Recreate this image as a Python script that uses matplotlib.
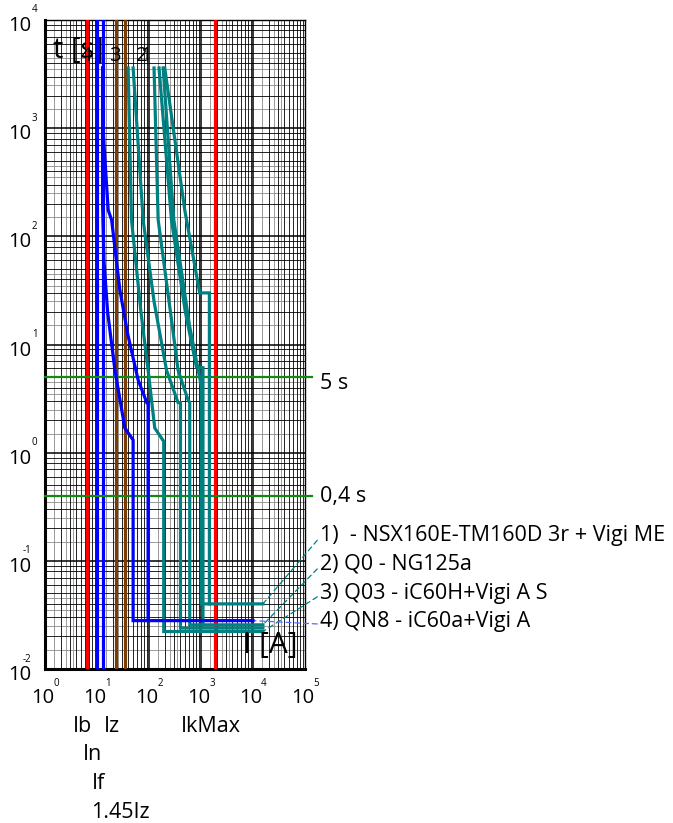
import numpy as np
import matplotlib
matplotlib.use("Agg")
import matplotlib.pyplot as plt
from matplotlib.transforms import blended_transform_factory

plt.rcParams['font.family'] = ['Open Sans', 'DejaVu Sans']

# ---------------- data ----------------
# marker currents [A]
ib = 6.4
in_ = 9.8
if_ = 12.8
iz = 23.4
iz145 = 33.9
ikmax = 1830

# time limits [s]
t_5s = 5.0
t_04s = 0.4

# curve 4 (blue) : QN8 - iC60a+Vigi A
c4_low_I = [12.8, 12.8, 13.6, 16.0, 22.1, 34.3, 49.5, 49.5, 10000]
c4_low_t = [3600, 200, 60, 20, 5.8, 1.69, 1.31, 0.028, 0.028]
c4_up_I = [12.9, 13.1, 16.4, 19.1, 27.5, 39.2, 61.8, 90.7, 96.0, 96.0]
c4_up_t = [3600, 960, 175, 142, 32, 12.3, 4.7, 2.9, 2.9, 0.028]

# curve 3 (teal) : Q03 - iC60H+Vigi A S
c3_low_I = [39.7, 46.1, 70.0, 96.1, 129, 192, 192, 15490]
c3_low_t = [3600, 142, 20, 5.8, 1.69, 1.27, 0.0222, 0.0222]
c3_up_I = [49.5, 77.1, 125, 217, 362, 403, 403, 15490]
c3_up_t = [3600, 142, 25, 5.8, 2.9, 2.9, 0.0239, 0.0239]

# curve 2 (teal) : Q0 - NG125a
c2_low_I = [125, 150, 280, 362, 560, 607, 607, 15490]
c2_low_t = [3600, 142, 15, 5.8, 3.1, 2.9, 0.0256, 0.0256]
c2_up_I = [156, 270, 500, 816, 1092, 1092]
c2_up_t = [3600, 142, 20, 6.2, 6.1, 0.0256]

# curve 1 (teal) : NSX160E-TM160D 3r + Vigi ME
c1_low_I = [187, 300, 600, 1018, 1018, 15490]
c1_low_t = [3600, 142, 15, 4.1, 0.040, 0.040]
c1_up_I = [201, 487, 944, 1450, 1450]
c1_up_t = [3600, 175, 30, 30, 0.040]

legend_labels = ["1)  - NSX160E-TM160D 3r + Vigi ME",
                 "2) Q0 - NG125a",
                 "3) Q03 - iC60H+Vigi A S",
                 "4) QN8 - iC60a+Vigi A"]
curve_numbers = ["4", "3", "2", "1"]

x_exps = [0, 1, 2, 3, 4, 5]
y_exps = [-2, -1, 0, 1, 2, 3, 4]

# ---------------- figure ----------------
W, H = 673, 823
fig = plt.figure(figsize=(W / 100, H / 100), dpi=100)
ax = fig.add_axes([45 / W, 1 - 669 / H, 260 / W, 649 / H])
ax.set_xscale('log')
ax.set_yscale('log')
ax.set_xlim(1, 1e5)
ax.set_ylim(1e-2, 1e4)
ax.tick_params(which='both', length=0, labelbottom=False, labelleft=False)

# grid
for e in range(0, 5):
    for k in range(1, 10):
        ax.axvline(k * 10.0 ** e, color='black', lw=1.1 if k == 1 else 0.6, zorder=1)
    for k in [1.5, 2.5, 3.5]:
        ax.axvline(k * 10.0 ** e, color='#8a8a8a', lw=0.6, zorder=0.9)
for e in range(-2, 4):
    for k in range(1, 10):
        ax.axhline(k * 10.0 ** e, color='black', lw=1.1 if k == 1 else 0.6, zorder=1)
    for k in [1.5, 2.5, 3.5, 4.5]:
        ax.axhline(k * 10.0 ** e, color='#8a8a8a', lw=0.6, zorder=0.9)

for s in ['left', 'bottom']:
    ax.spines[s].set_linewidth(2.2)
for s in ['top', 'right']:
    ax.spines[s].set_linewidth(1.0)

RED = '#ff0000'
BLUE = '#0000ff'
BROWN = '#7a3c06'
TEAL = '#008080'
GREEN = '#108a10'

for v, c in [(ib, RED), (ikmax, RED), (in_, BLUE), (if_, BLUE), (iz, BROWN), (iz145, BROWN)]:
    ax.axvline(v, color=c, lw=2.3, zorder=3)

tb = blended_transform_factory(ax.transAxes, ax.transData)
for t in [t_5s, t_04s]:
    ax.plot([0, 1.027], [t, t], transform=tb, color=GREEN, lw=1.6, clip_on=False, zorder=3)

lw_c = 2.3
ax.plot(c4_low_I, c4_low_t, color=BLUE, lw=lw_c, zorder=5, solid_joinstyle='miter')
ax.plot(c4_up_I, c4_up_t, color=BLUE, lw=lw_c, zorder=5, solid_joinstyle='miter')
for I, t in [(c3_low_I, c3_low_t), (c3_up_I, c3_up_t), (c2_low_I, c2_low_t),
             (c2_up_I, c2_up_t), (c1_low_I, c1_low_t), (c1_up_I, c1_up_t)]:
    ax.plot(I, t, color=TEAL, lw=lw_c, zorder=4, solid_joinstyle='miter')

# ---------------- texts ----------------
def pt(p):
    return p * 0.72

FS = 15.5
tx = blended_transform_factory(ax.transData, ax.transAxes)
for k in x_exps:
    ax.annotate("10", xy=(10.0 ** k, 0), xycoords=tx, xytext=(pt(-2), pt(-29)),
                textcoords='offset points', ha='center', va='center', fontsize=14.5,
                annotation_clip=False)
    ax.annotate(str(k), xy=(10.0 ** k, 0), xycoords=tx, xytext=(pt(11), pt(-14)),
                textcoords='offset points', ha='center', va='center', fontsize=7,
                annotation_clip=False)
for k in y_exps:
    ax.annotate("10", xy=(0, 10.0 ** k), xycoords=tb, xytext=(pt(-25), pt(-6)),
                textcoords='offset points', ha='center', va='center', fontsize=14.5,
                annotation_clip=False)
    ha = 'left' if k >= 0 else 'right'
    xo = -13 if k >= 0 else -14
    ax.annotate(str(k), xy=(0, 10.0 ** k), xycoords=tb, xytext=(pt(xo), pt(10)),
                textcoords='offset points', ha=ha, va='center', fontsize=7,
                annotation_clip=False)

# marker labels under the axis
for lab, v, dy in [("Ib", ib, 57), ("Iz", iz, 57), ("IkMax", ikmax, 57),
                   ("In", in_, 86), ("If", if_, 115), ("1.45Iz", iz145, 144)]:
    ax.annotate(lab, xy=(v, 0), xycoords=tx, xytext=(pt(-4), pt(-dy)),
                textcoords='offset points', ha='center', va='center', fontsize=FS,
                annotation_clip=False)

# axis titles
ax.text(0.031, 0.953, "t [s]", transform=ax.transAxes, fontsize=21, ha='left', va='center', zorder=2)
ax.text(0.76, 0.036, "I [A]", transform=ax.transAxes, fontsize=21.5, ha='left', va='center', zorder=6)

# curve numbers
for lab, xa in zip(curve_numbers, [0.158, 0.269, 0.373, 0.388]):
    ax.text(xa, 0.945, lab, transform=ax.transAxes, fontsize=14.5, ha='center', va='center', zorder=6)

# limit labels
ax.annotate("5 s", xy=(1, t_5s), xycoords=tb, xytext=(pt(15), pt(-6)), textcoords='offset points',
            ha='left', va='center', fontsize=FS, annotation_clip=False)
ax.annotate("0,4 s", xy=(1, t_04s), xycoords=tb, xytext=(pt(15), pt(-1)), textcoords='offset points',
            ha='left', va='center', fontsize=FS, annotation_clip=False)

# legend with leaders
ends = [(c1_low_I[-1], c1_low_t[-1], TEAL), (c2_low_I[-1], c2_low_t[-1], TEAL),
        (c3_low_I[-1], c3_low_t[-1], TEAL), (c4_low_I[-1], c4_low_t[-1], '#5a6aff')]
label_y = [535, 564, 593, 622]
for lab, (xe, ye, col), yy in zip(legend_labels, ends, label_y):
    ax.annotate(lab, xy=(xe, ye), xycoords='data', xytext=(320 / W, 1 - yy / H),
                textcoords='figure fraction', ha='left', va='center', fontsize=FS,
                annotation_clip=False,
                arrowprops=dict(arrowstyle='-', linestyle=(0, (4, 3)), color=col, lw=0.9,
                                shrinkA=0, shrinkB=0, relpos=(0, 0.4)))

fig.savefig("out.png", dpi=100)
